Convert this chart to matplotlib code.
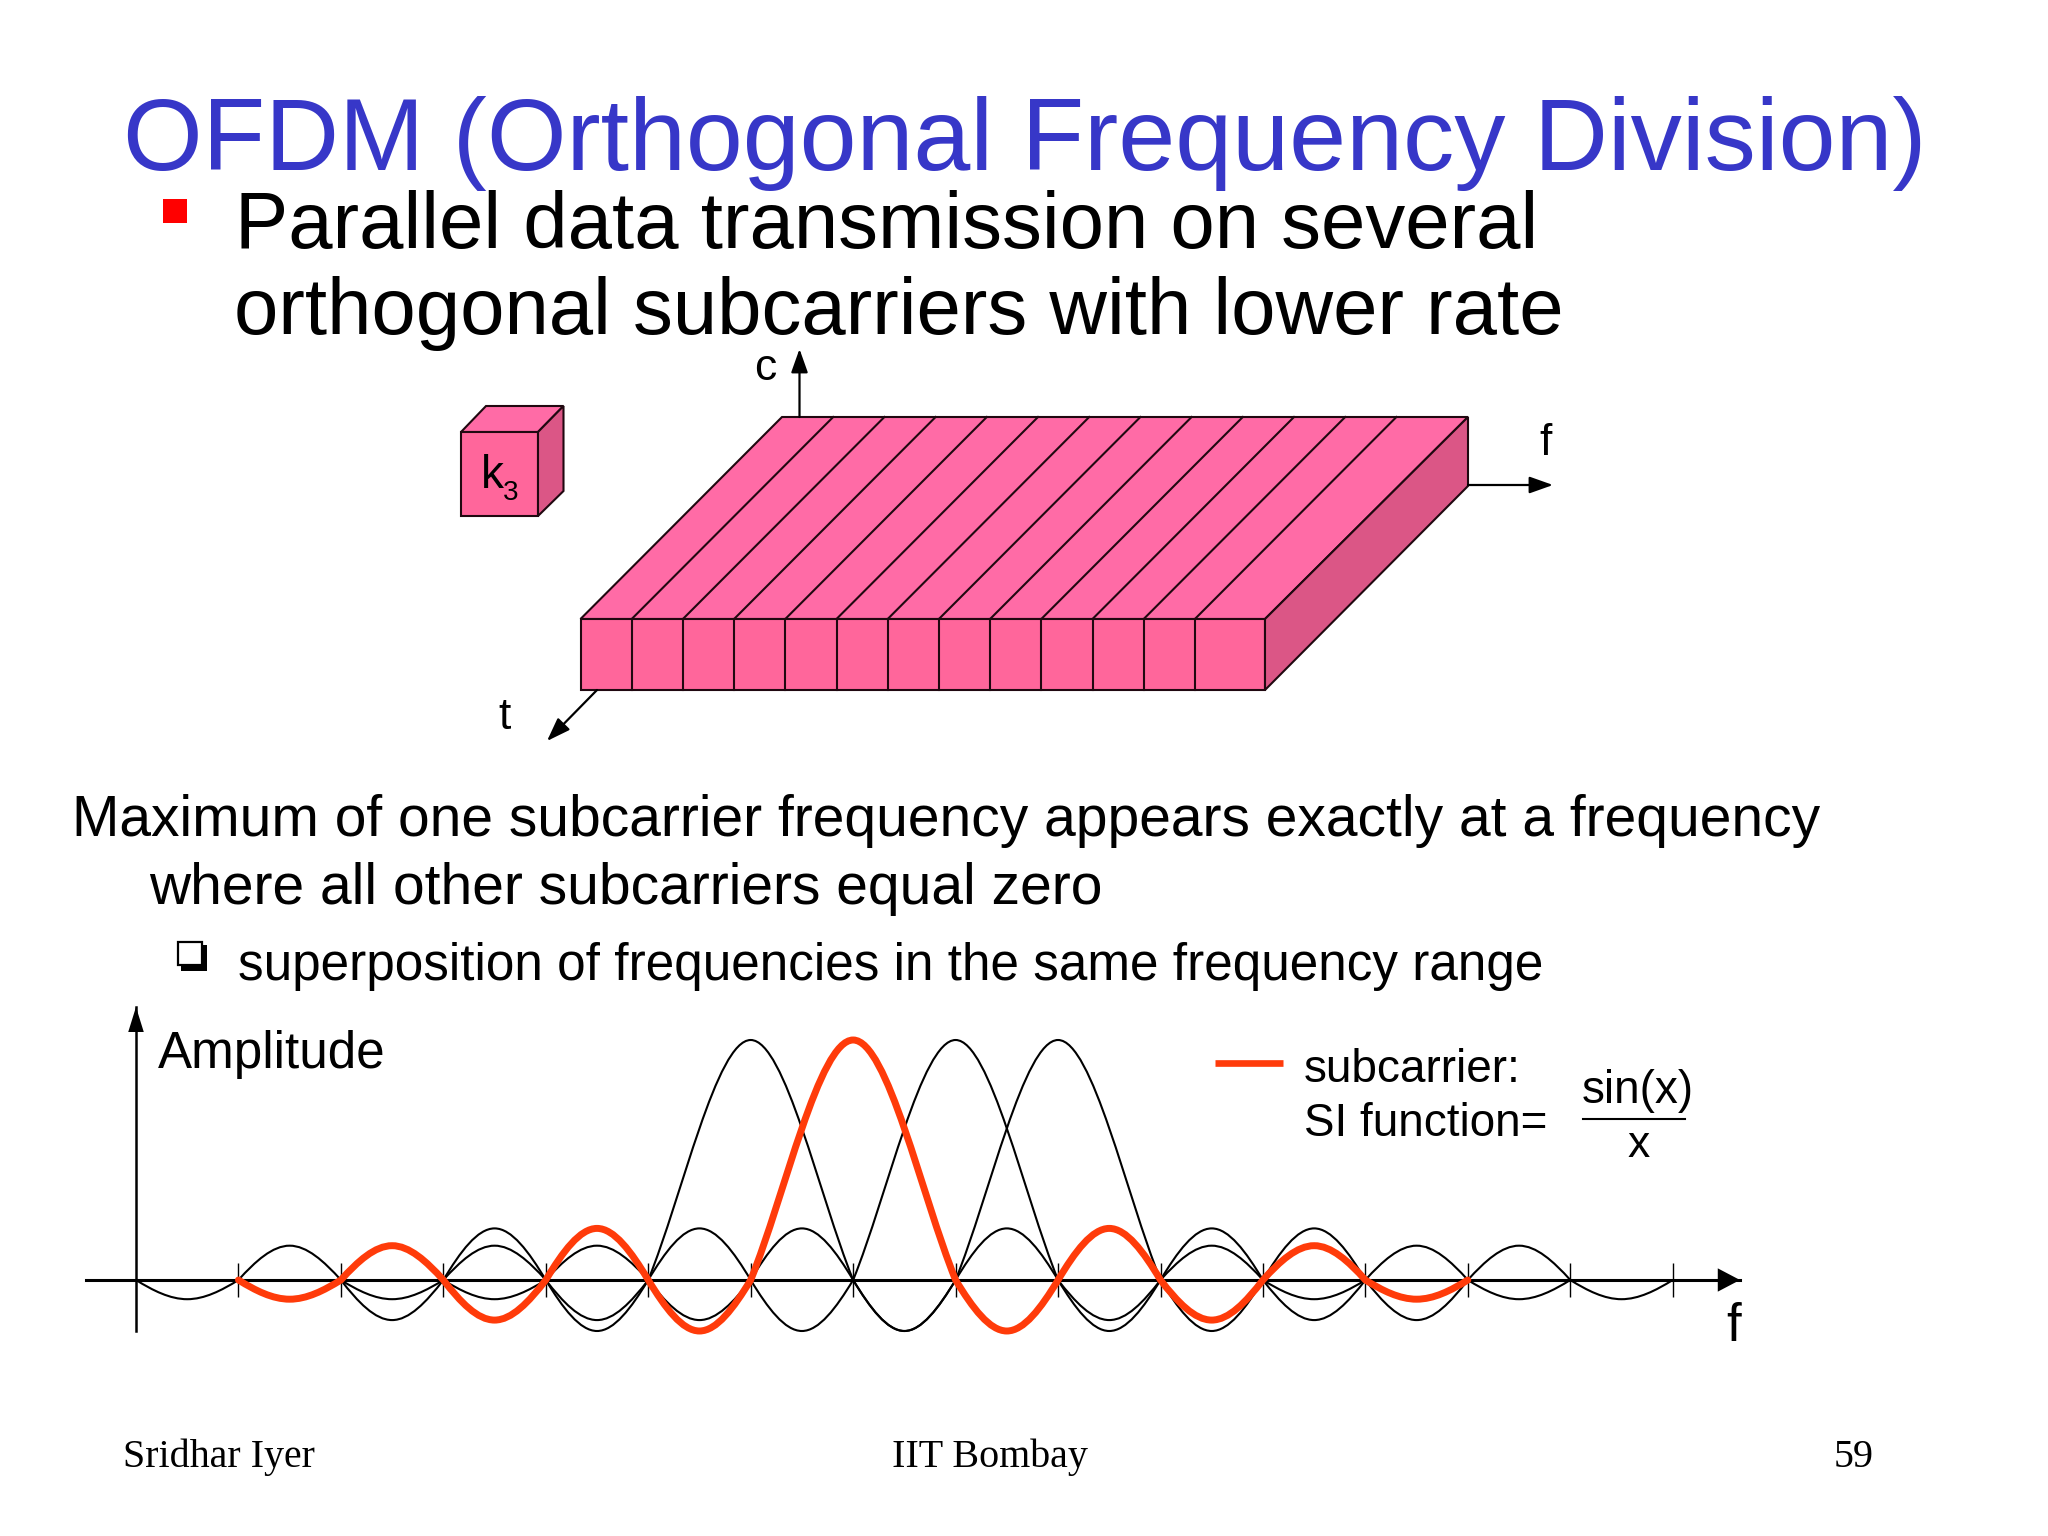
import matplotlib
matplotlib.use("Agg")
import matplotlib.pyplot as plt
from matplotlib.path import Path
from matplotlib.patches import PathPatch, Polygon, Rectangle

# ---- data ----
freq_ticks = list(range(1, 16))
curve_a_x = [0.5, 1.5, 2.5, 3.5, 4.5, 6, 7.5, 8.5, 9.5, 10.5, 11.5]
curve_a_y = [-0.08, 0.143, -0.167, 0.215, -0.2125, 1.0, -0.2125, 0.215, -0.167, 0.143, -0.08]
curve_b_x = [1.5, 2.5, 3.5, 4.5, 5.5, 7, 8.5, 9.5, 10.5, 11.5, 12.5]
curve_b_y = [-0.08, 0.143, -0.167, 0.215, -0.2125, 1.0, -0.2125, 0.215, -0.167, 0.143, -0.08]
curve_c_x = [2.5, 3.5, 4.5, 5.5, 6.5, 8, 9.5, 10.5, 11.5, 12.5, 13.5]
curve_c_y = [-0.08, 0.143, -0.167, 0.215, -0.2125, 1.0, -0.2125, 0.215, -0.167, 0.143, -0.08]
curve_d_x = [3.5, 4.5, 5.5, 6.5, 7.5, 9, 10.5, 11.5, 12.5, 13.5, 14.5]
curve_d_y = [-0.08, 0.143, -0.167, 0.215, -0.2125, 1.0, -0.2125, 0.215, -0.167, 0.143, -0.08]

title_text = "OFDM (Orthogonal Frequency Division)"
bullet_lines = ["Parallel data transmission on several",
                "orthogonal subcarriers with lower rate"]
body_lines = ["Maximum of one subcarrier frequency appears exactly at a frequency",
              "where all other subcarriers equal zero"]
sub_bullet = "superposition of frequencies in the same frequency range"
footer_left, footer_mid, footer_right = "Sridhar Iyer", "IIT Bombay", "59"

W, H = 2048, 1536
SANS = ["Liberation Sans", "DejaVu Sans"]
SERIF = ["Liberation Serif", "DejaVu Serif"]
RED = "#FF3B0A"
BLUE = "#3737C8"
TOP, FRONT, SIDE = "#FF6BA6", "#FF669B", "#DB5686"
EDGE = "#200810"

fig = plt.figure(figsize=(W / 100, H / 100), dpi=100, facecolor="white")

# pixel-space layer for the slide furniture and the illustration
bg = fig.add_axes([0, 0, 1, 1])
bg.set_xlim(0, W)
bg.set_ylim(H, 0)
bg.axis("off")


def txt(x, y, s, size, color="black", family=SANS, ha="left"):
    bg.text(x, y, s, fontsize=size, color=color, family=family, ha=ha, va="baseline")


txt(123, 170, title_text, 73.7, BLUE)
bg.add_patch(Rectangle((163, 199), 23.5, 24, fc="#FF0000", ec="none"))
txt(235, 248, bullet_lines[0], 57.4)
txt(234, 334, bullet_lines[1], 57.4)
txt(72, 836, body_lines[0], 41)
txt(149, 904, body_lines[1], 41)
txt(238, 980, sub_bullet, 36.9)

# hollow square bullet with a drop shadow
bg.add_patch(Rectangle((181, 945), 26, 26, fc="black", ec="none"))
bg.add_patch(Rectangle((178, 942), 24, 23, fc="white", ec="black", lw=1.6))

txt(123, 1467, footer_left, 28.8, family=SERIF)
txt(892, 1467, footer_mid, 28.8, family=SERIF)
txt(1834, 1467, footer_right, 28.8, family=SERIF)


def poly(pts, fc):
    bg.add_patch(Polygon(pts, closed=True, fc=fc, ec=EDGE, lw=1.5, joinstyle="miter"))


def arrow(p0, p1):
    bg.annotate("", xy=p1, xytext=p0,
                arrowprops=dict(arrowstyle="-|>,head_length=0.9,head_width=0.32", color="black",
                                lw=1.6, shrinkA=0, shrinkB=0, mutation_scale=16))


# big block
fx0, fx1, fy0, fy1 = 580.5, 1265, 619, 690
bx0, bx1, by = 782, 1468, 417
arrow((799.5, 417), (799.5, 349))
arrow((1468, 485), (1553, 485))
arrow((597, 690), (547, 741))
poly([(fx0, fy0), (bx0, by), (bx1, by), (fx1, fy0)], TOP)
poly([(fx0, fy0), (fx1, fy0), (fx1, fy1), (fx0, fy1)], FRONT)
poly([(fx1, fy0), (bx1, by), (bx1, 486), (fx1, fy1)], SIDE)
for i in range(1, 13):
    dx = 51.2 * i
    bg.plot([fx0 + dx, fx0 + dx], [fy0, fy1], color=EDGE, lw=1.5)
    bg.plot([fx0 + dx, bx0 + dx], [fy0, by], color=EDGE, lw=1.5)
txt(754, 380, "c", 32)
txt(1539, 455, "f", 32)
txt(498, 729, "t", 32)

# small cube
poly([(461, 432), (486, 406), (563.5, 406), (538, 432)], TOP)
poly([(461, 432), (538, 432), (538, 516), (461, 516)], FRONT)
poly([(538, 432), (563.5, 406), (563.5, 491), (538, 516)], SIDE)
txt(481, 488, "k", 33)
txt(503, 500, "3", 20)

# chart: x=k maps to 136+102.45k px, y=a maps to 1280-240a px
L, R, T, B = 86, 1740, 1007, 1331
ax = fig.add_axes([L / W, 1 - B / H, (R - L) / W, (B - T) / H])
ax.patch.set_alpha(0)
ax.set_xlim((L - 136) / 102.45, (R - 136) / 102.45)
ax.set_ylim((1280 - B) / 240, (1280 - T) / 240)
for s in ("top", "right"):
    ax.spines[s].set_visible(False)
ax.spines["left"].set_position(("data", 0))
ax.spines["bottom"].set_position(("data", 0))
ax.spines["left"].set_linewidth(1.8)
ax.spines["bottom"].set_linewidth(2.2)
ax.set_xticks(freq_ticks)
ax.set_yticks([])
ax.tick_params(axis="x", direction="inout", length=24.5, width=1.0, labelbottom=False)


def curve_path(xs, ys):
    verts = [(xs[0] - 0.5, 0.0)]
    codes = [Path.MOVETO]
    for x, y in zip(xs, ys):
        half = 1.0 if abs(y) == 1.0 else 0.5
        c = 0.352 if half == 1.0 else 0.552
        verts += [(x - half * 2 / 3, c * y), (x - half / 3, y), (x, y),
                  (x + half / 3, y), (x + half * 2 / 3, c * y), (x + half, 0.0)]
        codes += [Path.CURVE4] * 6
    return Path(verts, codes)


for xs, ys in ((curve_a_x, curve_a_y), (curve_c_x, curve_c_y), (curve_d_x, curve_d_y)):
    ax.add_patch(PathPatch(curve_path(xs, ys), fc="none", ec="black", lw=1.5, clip_on=False))
ax.add_patch(PathPatch(curve_path(curve_b_x, curve_b_y), fc="none", ec=RED, lw=5.0,
                       clip_on=False, capstyle="round", zorder=3))

ax.annotate("", xy=(1, 0), xycoords=("axes fraction", "data"), xytext=(0.97, 0),
            arrowprops=dict(arrowstyle="-|>,head_length=0.8,head_width=0.42", color="black",
                            lw=0, shrinkA=0, shrinkB=0, mutation_scale=20))
ax.annotate("", xy=(0, 1), xycoords=("data", "axes fraction"), xytext=(0, 0.93),
            arrowprops=dict(arrowstyle="-|>,head_length=0.9,head_width=0.28", color="black",
                            lw=0, shrinkA=0, shrinkB=0, mutation_scale=20))

txt(158, 1068, "Amplitude", 36.8)
txt(1726, 1341, "f", 38)
bg.plot([1215, 1283], [1063, 1063], color=RED, lw=4.8, solid_capstyle="butt")
txt(1304, 1082, "subcarrier:", 33)
txt(1304, 1136, "SI function=", 33)
txt(1582, 1103, "sin(x)", 33)
bg.plot([1583, 1685], [1119, 1119], color="black", lw=1.5)
txt(1627, 1157, "x", 32)

fig.savefig("out.png", dpi=100)
